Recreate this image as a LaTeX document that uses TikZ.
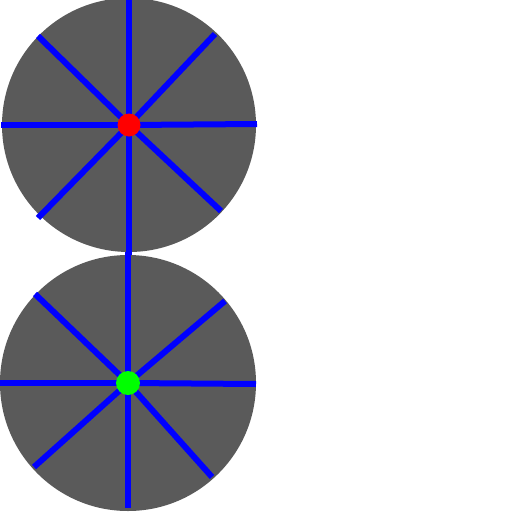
\documentclass[tikz,border=0pt]{standalone}
\begin{document}
\begin{tikzpicture}[x=1pt,y=-1pt,
  disk/.style={fill=diskgray,draw=none},
  spoke/.style={draw=blue,line width=6pt},
  hub/.style={circle,inner sep=0pt,minimum size=23pt,draw=none}]
\definecolor{diskgray}{HTML}{5A5A5A}
\useasboundingbox (0,0) rectangle (512,512);
% top wheel
\coordinate (c1) at (129,125);
\fill[disk] (c1) circle (127);
\draw[spoke] (c1) -- (129,0);
\draw[spoke] (c1) -- (129,256);
\draw[spoke] (c1) -- (1,125);
\draw[spoke] (c1) -- (257,124);
\draw[spoke] (c1) -- (38,36);
\draw[spoke] (c1) -- (215,34);
\draw[spoke] (c1) -- (38,218);
\draw[spoke] (c1) -- (221,211);
% bottom wheel
\coordinate (c2) at (128,383);
\fill[disk] (c2) circle (128);
\draw[spoke] (c2) -- (128,252);
\draw[spoke] (c2) -- (128,508);
\draw[spoke] (c2) -- (0,383);
\draw[spoke] (c2) -- (256,384);
\draw[spoke] (c2) -- (35,294);
\draw[spoke] (c2) -- (225,301);
\draw[spoke] (c2) -- (34,467);
\draw[spoke] (c2) -- (212,477);
\node[hub,fill=red] (h1) at (c1) {};
\node[hub,fill=green,minimum size=24pt] (h2) at (c2) {};
\end{tikzpicture}
\end{document}
